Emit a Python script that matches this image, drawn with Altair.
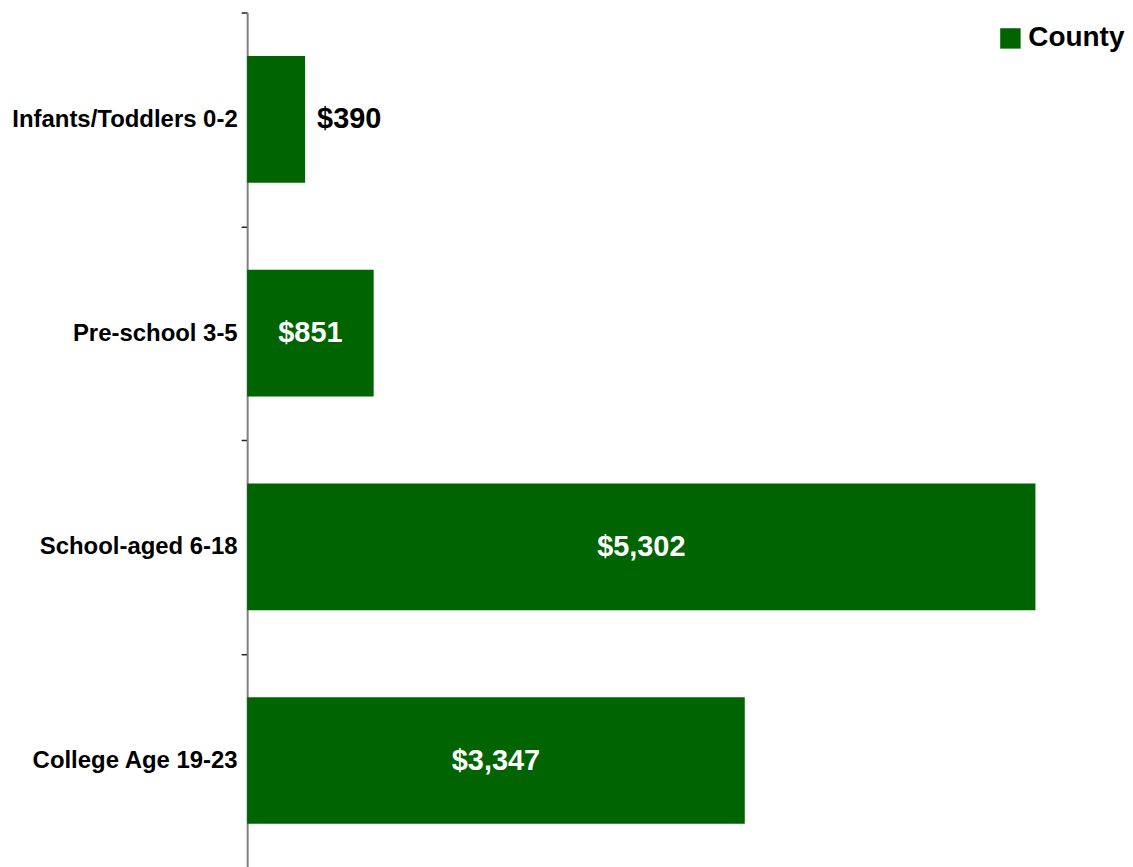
import altair as alt
import pandas as pd

categories = ["Infants/Toddlers 0-2", "Pre-school 3-5", "School-aged 6-18", "College Age 19-23"]
values = [390, 851, 5302, 3347]
labels = ["$390", "$851", "$5,302", "$3,347"]
series = ["County", "County", "County", "County"]

df = pd.DataFrame({"cat": categories, "value": values, "label": labels, "series": series})

FONT = "Liberation Sans"
GREEN = "#006400"

y_enc = alt.Y("cat:N", sort=categories, title=None,
              scale=alt.Scale(paddingInner=0, paddingOuter=0),
              axis=alt.Axis(labelFont=FONT, labelFontSize=24, labelFontWeight="bold",
                            labelColor="#000000", labelPadding=4, tickBand="extent",
                            tickSize=6, tickColor="#222222", tickWidth=1.5,
                            domainColor="#808080", domainWidth=2, labelLimit=400))
x_scale = alt.Scale(domain=[0, 5824], nice=False, zero=True)

bars = alt.Chart(df).mark_bar(size=127).encode(
    y=y_enc,
    x=alt.X("value:Q", scale=x_scale, axis=None, title=None),
    color=alt.Color("series:N", scale=alt.Scale(range=[GREEN]),
                    legend=alt.Legend(title=None, orient="none", legendX=752, legendY=12,
                                      symbolType="square", symbolSize=420,
                                      symbolStrokeWidth=0, labelFont=FONT,
                                      labelFontSize=28, labelFontWeight="bold",
                                      labelColor="#000000", labelOffset=4, padding=0)),
)

inside = alt.Chart(df).transform_filter("datum.value >= 600").transform_calculate(
    mid="datum.value / 2"
).mark_text(font=FONT, fontSize=29, fontWeight="bold", color="white",
            align="center", baseline="middle").encode(
    y=alt.Y("cat:N", sort=categories),
    x=alt.X("mid:Q", scale=x_scale),
    text="label:N",
)

outside = alt.Chart(df).transform_filter("datum.value < 600").mark_text(
    font=FONT, fontSize=29, fontWeight="bold", color="black",
    align="left", baseline="middle", dx=12).encode(
    y=alt.Y("cat:N", sort=categories),
    x=alt.X("value:Q", scale=x_scale),
    text="label:N",
)

chart = alt.layer(bars, inside, outside).properties(
    width=869, height=858,
    autosize=alt.AutoSizeParams(type="none"),
    padding={"left": 240, "top": 3, "right": 12, "bottom": 0},
    background="white",
).configure_view(stroke=None)

chart.save("out.html", embed_options={"renderer": "svg", "actions": False})
